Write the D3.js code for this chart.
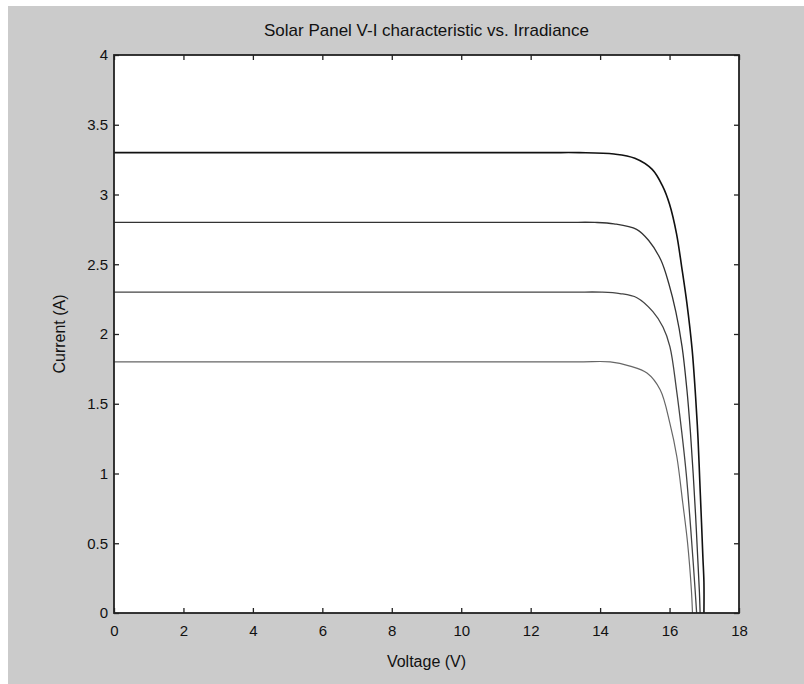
<!DOCTYPE html>
<html>
<head>
<meta charset="utf-8">
<script src="https://cdn.jsdelivr.net/npm/d3@7"></script>
<style>
  body { margin: 0; background: #fff; }
  text { font-family: "Liberation Sans", Arial, sans-serif; fill: #111; }
</style>
</head>
<body>
<svg width="804" height="684"></svg>
<script>
// V-I curves, one per irradiance level
let curve33 = [[0,3.30],[12.4,3.30],[13.4,3.30],[14.4,3.29],[15.0,3.26],[15.5,3.18],[15.8,3.06],[16.0,2.93],[16.2,2.72],
  [16.35,2.48],[16.5,2.22],[16.65,1.89],[16.75,1.55],[16.82,1.25],[16.87,0.95],[16.92,0.65],[16.96,0.4],[16.99,0.22],[16.99,0]];
let curve28 = [[0,2.80],[12.9,2.80],[13.85,2.80],[14.4,2.79],[15.05,2.75],[15.4,2.67],[15.75,2.53],[15.98,2.36],[16.18,2.16],
  [16.36,1.91],[16.5,1.6],[16.6,1.3],[16.68,1.0],[16.75,0.7],[16.81,0.4],[16.86,0.15],[16.88,0]];
let curve23 = [[0,2.30],[13.1,2.30],[14.05,2.30],[14.57,2.29],[15.06,2.26],[15.52,2.16],[15.81,2.05],[16.01,1.91],[16.2,1.6],
  [16.35,1.3],[16.48,1.0],[16.58,0.7],[16.67,0.4],[16.74,0.15],[16.78,0]];
let curve18 = [[0,1.80],[13.3,1.80],[14.29,1.80],[14.86,1.77],[15.35,1.72],[15.73,1.60],[16.01,1.36],[16.21,1.12],[16.38,0.79],
  [16.52,0.50],[16.63,0.16],[16.66,0]];

let xTicks = [0,2,4,6,8,10,12,14,16,18];
let yTicks = [0,0.5,1,1.5,2,2.5,3,3.5,4];

let svg = d3.select("svg");
let pLeft = 114, pRight = 739, pTop = 55, pBottom = 613;

// grey figure background with thin white border at top/left
svg.append("rect").attr("x", 0).attr("y", 0).attr("width", 804).attr("height", 684).attr("fill", "#fff");
svg.append("rect").attr("x", 8).attr("y", 6).attr("width", 796).attr("height", 678).attr("fill", "#cbcbcb");

svg.append("rect").attr("x", pLeft).attr("y", pTop).attr("width", pRight - pLeft).attr("height", pBottom - pTop)
  .attr("fill", "#fff");

let x = d3.scaleLinear().domain([0, 18]).range([pLeft, pRight]);
let y = d3.scaleLinear().domain([0, 4]).range([pBottom, pTop]);

let fmt = function(d) { return String(+d); };

let gx = svg.append("g").attr("transform", "translate(0," + pBottom + ")")
  .call(d3.axisBottom(x).tickValues(xTicks).tickSize(-5).tickPadding(12).tickFormat(fmt));
let gy = svg.append("g").attr("transform", "translate(" + pLeft + ",0)")
  .call(d3.axisLeft(y).tickValues(yTicks).tickSize(-5).tickPadding(6).tickFormat(fmt));
let gt = svg.append("g").attr("transform", "translate(0," + pTop + ")")
  .call(d3.axisTop(x).tickValues(xTicks).tickSize(-5).tickFormat(""));
let gr = svg.append("g").attr("transform", "translate(" + pRight + ",0)")
  .call(d3.axisRight(y).tickValues(yTicks).tickSize(-5).tickFormat(""));

[gx, gy, gt, gr].forEach(function(g) {
  g.select(".domain").remove();
  g.selectAll("line").attr("stroke", "#222").attr("stroke-width", 1.3);
  g.selectAll("text").attr("font-size", 15).attr("fill", "#111")
    .style("font-family", '"Liberation Sans", Arial, sans-serif');
});

let line = d3.line()
  .x(function(d) { return x(d[0]); })
  .y(function(d) { return y(d[1]); })
  .curve(d3.curveCatmullRom.alpha(0.5));

let series = [
  { data: curve33, color: "#111", w: 1.6 },
  { data: curve28, color: "#333", w: 1.3 },
  { data: curve23, color: "#444", w: 1.3 },
  { data: curve18, color: "#666", w: 1.2 }
];
svg.append("g").selectAll("path").data(series).enter().append("path")
  .attr("d", function(d) { return line(d.data); })
  .attr("fill", "none")
  .attr("stroke", function(d) { return d.color; })
  .attr("stroke-width", function(d) { return d.w; });

// frame
svg.append("rect").attr("x", pLeft).attr("y", pTop).attr("width", pRight - pLeft).attr("height", pBottom - pTop)
  .attr("fill", "none").attr("stroke", "#222").attr("stroke-width", 1.8);

svg.append("text").attr("x", (pLeft + pRight) / 2).attr("y", 36).attr("text-anchor", "middle")
  .attr("font-size", 17).text("Solar Panel V-I characteristic vs. Irradiance");
svg.append("text").attr("x", (pLeft + pRight) / 2).attr("y", 667).attr("text-anchor", "middle")
  .attr("font-size", 16).text("Voltage (V)");
svg.append("text").attr("transform", "translate(65," + ((pTop + pBottom) / 2) + ") rotate(-90)")
  .attr("text-anchor", "middle").attr("font-size", 16).text("Current (A)");
</script>
</body>
</html>
